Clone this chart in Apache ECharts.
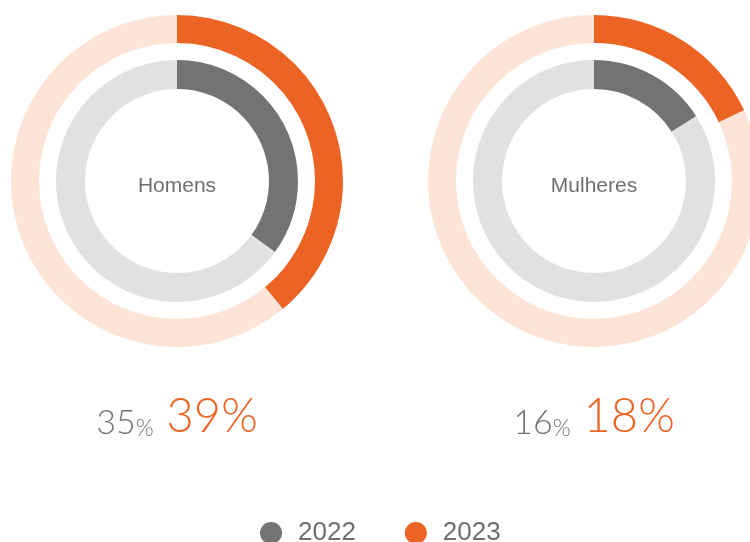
<!DOCTYPE html>
<html>
<head>
<meta charset="utf-8">
<script src="https://cdn.jsdelivr.net/npm/echarts@6/dist/echarts.min.js"></script>
<style>
  html, body { margin: 0; padding: 0; background: #fff; }
  #chart { width: 750px; height: 542px; }
</style>
</head>
<body>
<div id="chart"></div>
<script>
// groups and their values (percent)
const groups = ['Homens', 'Mulheres'];
const years = ['2022', '2023'];
const values2022 = [35, 16];
const values2023 = [39, 18];

const centersX = [177, 594];
const centerY = 181;

const gray = '#747275';
const grayLight = '#e2e0e1';
const orange = '#ec6424';
const orangeLight = '#fde4d6';
const textGray = '#6f6e70';

const series = [];
const titles = [];

groups.forEach((g, i) => {
  // inner ring: 2022 (with group name in the middle)
  series.push({
    name: years[0],
    type: 'pie',
    center: [centersX[i], centerY],
    radius: [92, 121],
    startAngle: 90,
    silent: true,
    labelLine: { show: false },
    emphasis: { disabled: true },
    animation: false,
    data: [
      {
        name: g + ' ' + years[0],
        value: values2022[i],
        itemStyle: { color: gray },
        label: {
          show: true,
          position: 'center',
          formatter: g,
          offset: [0, 5],
          fontFamily: 'Liberation Sans, Arial, sans-serif',
          fontSize: 21,
          color: textGray
        }
      },
      {
        name: g + ' resto ' + years[0],
        value: 100 - values2022[i],
        itemStyle: { color: grayLight },
        label: { show: false }
      }
    ]
  });
  // outer ring: 2023
  series.push({
    name: years[1],
    type: 'pie',
    center: [centersX[i], centerY],
    radius: [138, 166],
    startAngle: 90,
    silent: true,
    label: { show: false },
    labelLine: { show: false },
    emphasis: { disabled: true },
    animation: false,
    data: [
      { name: g + ' ' + years[1], value: values2023[i], itemStyle: { color: orange } },
      { name: g + ' resto ' + years[1], value: 100 - values2023[i], itemStyle: { color: orangeLight } }
    ]
  });

  // percentages below
  titles.push({
    text: `{a|${values2022[i]}}{b|%}{c|${values2023[i]}%}`,
    left: centersX[i],
    top: 404,
    padding: 0,
    textAlign: 'center',
    textStyle: {
      rich: {
        a: { fontFamily: 'Lato', fontWeight: 300, fontSize: 34, lineHeight: 26, verticalAlign: 'bottom', color: gray },
        b: { fontFamily: 'Lato', fontWeight: 300, fontSize: 23, lineHeight: 18, verticalAlign: 'bottom', color: gray },
        c: { fontFamily: 'Lato', fontWeight: 300, fontSize: 47, lineHeight: 36, verticalAlign: 'bottom', color: orange, padding: [0, 0, 0, 13] }
      }
    }
  });
});

const chart = echarts.init(document.getElementById('chart'));
chart.setOption({
  backgroundColor: '#fff',
  title: titles,
  legend: {
    top: 515,
    left: 255,
    icon: 'circle',
    itemWidth: 22,
    itemHeight: 22,
    itemGap: 49,
    selectedMode: false,
    textStyle: {
      fontFamily: 'Liberation Sans, Arial, sans-serif',
      fontSize: 26,
      lineHeight: 22,
      color: textGray,
      padding: [0, 0, 0, 11]
    },
    data: [
      { name: years[0], itemStyle: { color: gray } },
      { name: years[1], itemStyle: { color: orange } }
    ]
  },
  series: series
});
</script>
</body>
</html>
